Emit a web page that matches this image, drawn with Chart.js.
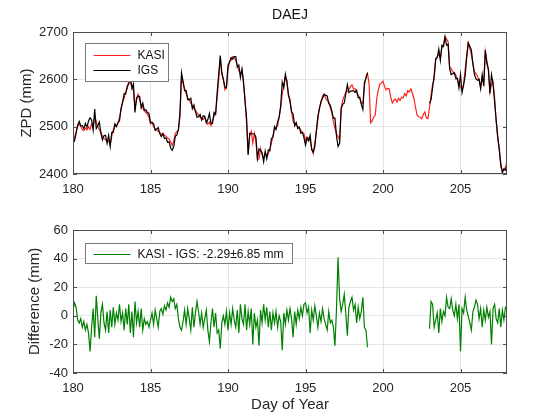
<!DOCTYPE html>
<html><head><meta charset="utf-8">
<script src="https://cdn.jsdelivr.net/npm/chart.js@4"></script>
<style>
body{margin:0;background:#fff;width:560px;height:420px;overflow:hidden;position:relative}
#c1{position:absolute;left:0;top:0}
#c2{position:absolute;left:0;top:205px}
</style></head><body>
<canvas id="c1" width="560" height="205"></canvas>
<canvas id="c2" width="560" height="215"></canvas>
<script>
// ---------------- data ----------------
const title = 'DAEJ';
const xTicks = [180, 185, 190, 195, 200, 205];
const zpdTicks = [2400, 2500, 2600, 2700];
const diffTicks = [-40, -20, 0, 20, 40, 60];
const dayStart = 180, dayStep = 0.1;   // sampling of every series below

// KASI ZPD (mm), every 0.1 day from 180.0 to 208.0
const kasi = [
 2468,2478,2490,2500,2507,2500,2494,2492,2497,2493,
 2500,2494,2506,2498,2522,2510,2500,2494,2488,2480,
 2476,2472,2468,2470,2462,2480,2494,2500,2502,2506,
 2520,2535,2553,2560,2574,2580,2598,2594,2584,2575,
 2540,2556,2568,2556,2545,2540,2533,2530,2526,2520,
 2506,2510,2500,2496,2493,2490,2488,2484,2486,2482,
 2480,2476,2474,2468,2460,2470,2485,2490,2492,2520,
 2604,2592,2580,2570,2562,2555,2550,2544,2538,2534,
 2530,2524,2520,2516,2515,2520,2512,2505,2510,2502,
 2512,2522,2528,2560,2600,2645,2610,2600,2578,2585,
 2620,2638,2640,2648,2645,2640,2630,2618,2612,2620,
 2590,2560,2507,2443,2480,2490,2465,2486,2470,2430,
 2432,2454,2440,2434,2445,2438,2443,2452,2465,2480,
 2495,2497,2502,2520,2540,2570,2585,2605,2598,2565,
 2558,2530,2512,2505,2503,2500,2497,2492,2488,2485,
 2470,2478,2476,2470,2455,2443,2465,2490,2515,2540,
 2550,2565,2567,2560,2555,2552,2540,2530,2510,2497,
 2485,2479,2472,2540,2555,2565,2572,2575,2578,2585,
 2588,2580,2580,2572,2567,2560,2550,2549,2585,2605,
 2612,2592,2508,2512,2520,2524,2560,2578,2590,2592,
 2596,2585,2578,2581,2580,2562,2550,2556,2558,2552,
 2560,2555,2562,2561,2570,2565,2576,2573,2580,2570,
 2559,2540,2524,2521,2520,2517,2526,2531,2518,2517,
 2540,2567,2590,2600,2641,2648,2652,2645,2668,2672,
 2690,2685,2680,2627,2622,2616,2614,2609,2600,2590,
 2585,2577,2590,2620,2650,2677,2665,2652,2635,2616,
 2612,2606,2598,2585,2602,2590,2659,2640,2620,2573,
 2590,2595,2561,2512,2475,2456,2414,2407,2408,2414,
 2425
];

// IGS ZPD (mm), same sampling; null = no IGS product
const igs = [
 2465,2470,2486,2503,2511,2502,2502,2496,2507,2499,
 2512,2519,2514,2493,2537,2496,2502,2510,2486,2472,
 2481,2482,2465,2482,2458,2488,2488,2506,2500,2509,
 2512,2539,2551,2570,2569,2586,2590,2606,2581,2590,
 2530,2561,2565,2564,2540,2550,2535,2536,2530,2528,
 2509,2508,2506,2492,2495,2498,2485,2479,2485,2475,
 2476,2467,2468,2455,2450,2458,2480,2482,2494,2528,
 2614,2596,2576,2576,2557,2557,2560,2538,2546,2532,
 2520,2521,2526,2514,2523,2522,2508,2515,2528,2507,
 2507,2530,2526,2572,2610,2650,2615,2600,2584,2582,
 2630,2636,2646,2643,2648,2648,2626,2630,2604,2622,
 2596,2552,2517,2440,2486,2485,2485,2484,2478,2433,
 2453,2450,2445,2426,2448,2432,2451,2449,2475,2478,
 2500,2494,2510,2520,2544,2594,2583,2611,2594,2568,
 2553,2532,2527,2502,2509,2496,2499,2486,2488,2477,
 2461,2476,2470,2482,2451,2446,2458,2490,2523,2538,
 2554,2560,2569,2566,2565,2549,2545,2533,2518,2518,
 2480,2458,2465,2537,2547,2550,2570,2589,2572,2575,
 2575,2576,2572,2577,2561,2562,2547,2536,2593,2602,
 2614,null,null,null,null,null,null,null,null,null,
 null,null,null,null,null,null,null,null,null,null,
 null,null,null,null,null,null,null,null,null,null,
 null,null,null,null,null,null,null,null,null,null,
 2549,2557,2582,2608,2644,2646,2664,2640,2672,2669,
 2690,2672,2674,2622,2610,2612,2614,2601,2602,2582,
 2610,2572,2588,2607,2646,2677,2670,2662,2632,2610,
 2601,2598,2600,2580,2610,2586,2662,2634,2621,2570,
 2610,2590,2553,2514,2480,2451,2422,2403,2411,2408,
 2420
];

// KASI - IGS difference (mm), same sampling
const diff = [
 4,9,6,-3,-5,-2,-8,-4,-10,-6,
 -12,-25,-8,5,-15,14,-2,-16,2,8,
 -5,-10,3,-12,4,-8,6,-6,2,-3,
 8,-4,2,-10,5,-6,8,-12,3,-15,
 10,-5,3,-8,5,-10,-2,-6,-4,-8,
 -3,2,-6,4,-2,-8,3,5,1,7,
 4,9,6,13,10,12,5,8,-2,-8,
 -10,-4,4,-6,5,-2,-10,6,-8,2,
 10,3,-6,2,-8,-2,4,-10,-18,-5,
 5,-8,2,-12,-10,-23,-5,0,-6,3,
 -10,2,-6,5,-3,-8,4,-12,8,-2,
 -6,8,-10,3,-6,5,-20,2,-8,-3,
 -21,4,-5,8,-3,6,-8,3,-10,2,
 -5,3,-8,0,-4,-24,2,-6,4,-3,
 5,-2,-15,3,-6,4,-2,6,0,8,
 9,2,6,-12,4,-3,7,0,-8,2,
 -4,5,-2,-6,-10,3,-5,-3,-8,-21,
 5,41,12,3,8,15,2,-14,6,10,
 13,4,8,-5,6,-2,3,13,-8,-10,
 -22,null,null,null,null,null,null,null,null,null,
 null,null,null,null,null,null,null,null,null,null,
 null,null,null,null,null,null,null,null,null,null,
 null,null,null,null,null,null,null,null,null,null,
 -9,10,8,-8,-3,2,-12,5,-4,3,
 0,13,6,5,12,4,0,8,-2,8,
 -25,5,2,13,4,0,-5,-10,3,6,
 11,8,-2,5,-8,4,-3,6,-1,3,
 -20,5,8,-2,-5,5,-8,4,-3,6,
 5
];
const diffLabel = 'KASI - IGS: -2.29\u00B16.85 mm';

// ---------------- drawing ----------------
const FONT = '"Liberation Sans", Arial, Helvetica, sans-serif';
const TXT = '#262626';
const toXY = arr => arr.map((v, i) => ({x: +(dayStart + i * dayStep).toFixed(2), y: v}));

function decor(cfg) {
  return {
    id: 'decor',
    afterDraw(chart) {
      const {ctx, chartArea: a, scales} = chart;
      ctx.save();
      ctx.strokeStyle = '#4d4d4d'; ctx.lineWidth = 1;
      ctx.strokeRect(Math.round(a.left) + 0.5, Math.round(a.top) + 0.5,
                     Math.round(a.right - a.left) - 1, Math.round(a.bottom - a.top) - 1);
      ctx.beginPath();
      const tl = 4;
      scales.x.ticks.forEach(t => {
        const px = Math.round(scales.x.getPixelForValue(t.value)) + 0.5;
        ctx.moveTo(px, a.bottom); ctx.lineTo(px, a.bottom - tl);
        ctx.moveTo(px, a.top); ctx.lineTo(px, a.top + tl);
      });
      scales.y.ticks.forEach(t => {
        const py = Math.round(scales.y.getPixelForValue(t.value)) + 0.5;
        ctx.moveTo(a.left, py); ctx.lineTo(a.left + tl, py);
        ctx.moveTo(a.right, py); ctx.lineTo(a.right - tl, py);
      });
      ctx.stroke();
      if (cfg.title) {
        ctx.fillStyle = '#111'; ctx.font = '14px ' + FONT;
        ctx.textAlign = 'center'; ctx.textBaseline = 'middle';
        ctx.fillText(cfg.title, (a.left + a.right) / 2, 15);
      }
      const L = cfg.legend;
      const bx = a.left + 12.5, by = a.top + L.dy + 0.5;
      ctx.fillStyle = '#fff';
      ctx.fillRect(bx, by, L.w, L.h);
      ctx.strokeStyle = '#7a7a7a'; ctx.lineWidth = 1;
      ctx.strokeRect(bx, by, L.w, L.h);
      ctx.font = '12px ' + FONT; ctx.textAlign = 'left'; ctx.textBaseline = 'middle';
      L.items.forEach((it, k) => {
        const yy = Math.round(by + L.first + k * L.gap) + 0.5;
        ctx.strokeStyle = it.color; ctx.lineWidth = 1;
        ctx.beginPath(); ctx.moveTo(bx + 8, yy); ctx.lineTo(bx + 45, yy); ctx.stroke();
        ctx.fillStyle = '#111';
        ctx.fillText(it.text, bx + 52, yy + 0.5);
      });
      ctx.restore();
    }
  };
}

function options(cfg) {
  return {
    responsive: false, animation: false, devicePixelRatio: 1,
    layout: {padding: {left: 0, right: 53, top: cfg.padTop, bottom: 0}},
    plugins: {legend: {display: false}, tooltip: {enabled: false}},
    elements: {point: {radius: 0}, line: {borderWidth: 1.2, tension: 0}},
    scales: {
      x: {
        type: 'linear', min: 180, max: 208,
        afterBuildTicks: s => { s.ticks = xTicks.map(v => ({value: v})); },
        afterFit: s => { s.height = cfg.xh; },
        grid: {color: '#e6e6e6', drawTicks: false},
        border: {display: false},
        ticks: {color: TXT, font: {family: FONT, size: 13}, padding: 8, maxRotation: 0, autoSkip: false,
                callback: v => String(v)},
        title: cfg.xTitle ? {display: true, text: cfg.xTitle, color: TXT,
                font: {family: FONT, size: 15}, padding: {top: 0, bottom: 6}} : {display: false}
      },
      y: {
        type: 'linear', min: cfg.yTicks[0], max: cfg.yTicks[cfg.yTicks.length - 1],
        afterBuildTicks: s => { s.ticks = cfg.yTicks.map(v => ({value: v})); },
        afterFit: s => { s.width = 73; },
        grid: {color: '#e6e6e6', drawTicks: false},
        border: {display: false},
        ticks: {color: TXT, font: {family: FONT, size: 13}, padding: 5, autoSkip: false,
                callback: v => String(v)},
        title: {display: true, text: cfg.yTitle, color: TXT, font: {family: FONT, size: 15},
                padding: {top: cfg.ytp, bottom: 0}}
      }
    }
  };
}

new Chart(document.getElementById('c1'), {
  type: 'line',
  data: {datasets: [
    {label: 'KASI', data: toXY(kasi), borderColor: '#ff2020', order: 2, spanGaps: false},
    {label: 'IGS', data: toXY(igs), borderColor: '#000000', order: 1, spanGaps: false}
  ]},
  options: options({padTop: 32, xh: 31, yTicks: zpdTicks, yTitle: 'ZPD (mm)', ytp: 18}),
  plugins: [decor({title: title, legend: {dy: 11, w: 83, h: 38, first: 11, gap: 15,
    items: [{color: '#ff2020', text: 'KASI'}, {color: '#000000', text: 'IGS'}]}})]
});

new Chart(document.getElementById('c2'), {
  type: 'line',
  data: {datasets: [
    {label: diffLabel, data: toXY(diff), borderColor: '#008000', spanGaps: false}
  ]},
  options: options({padTop: 25, xh: 47, yTicks: diffTicks, yTitle: 'Difference (mm)', ytp: 26, xTitle: 'Day of Year'}),
  plugins: [decor({legend: {dy: 13, w: 207, h: 20, first: 10, gap: 0,
    items: [{color: '#008000', text: diffLabel}]}})]
});
</script>
</body></html>
